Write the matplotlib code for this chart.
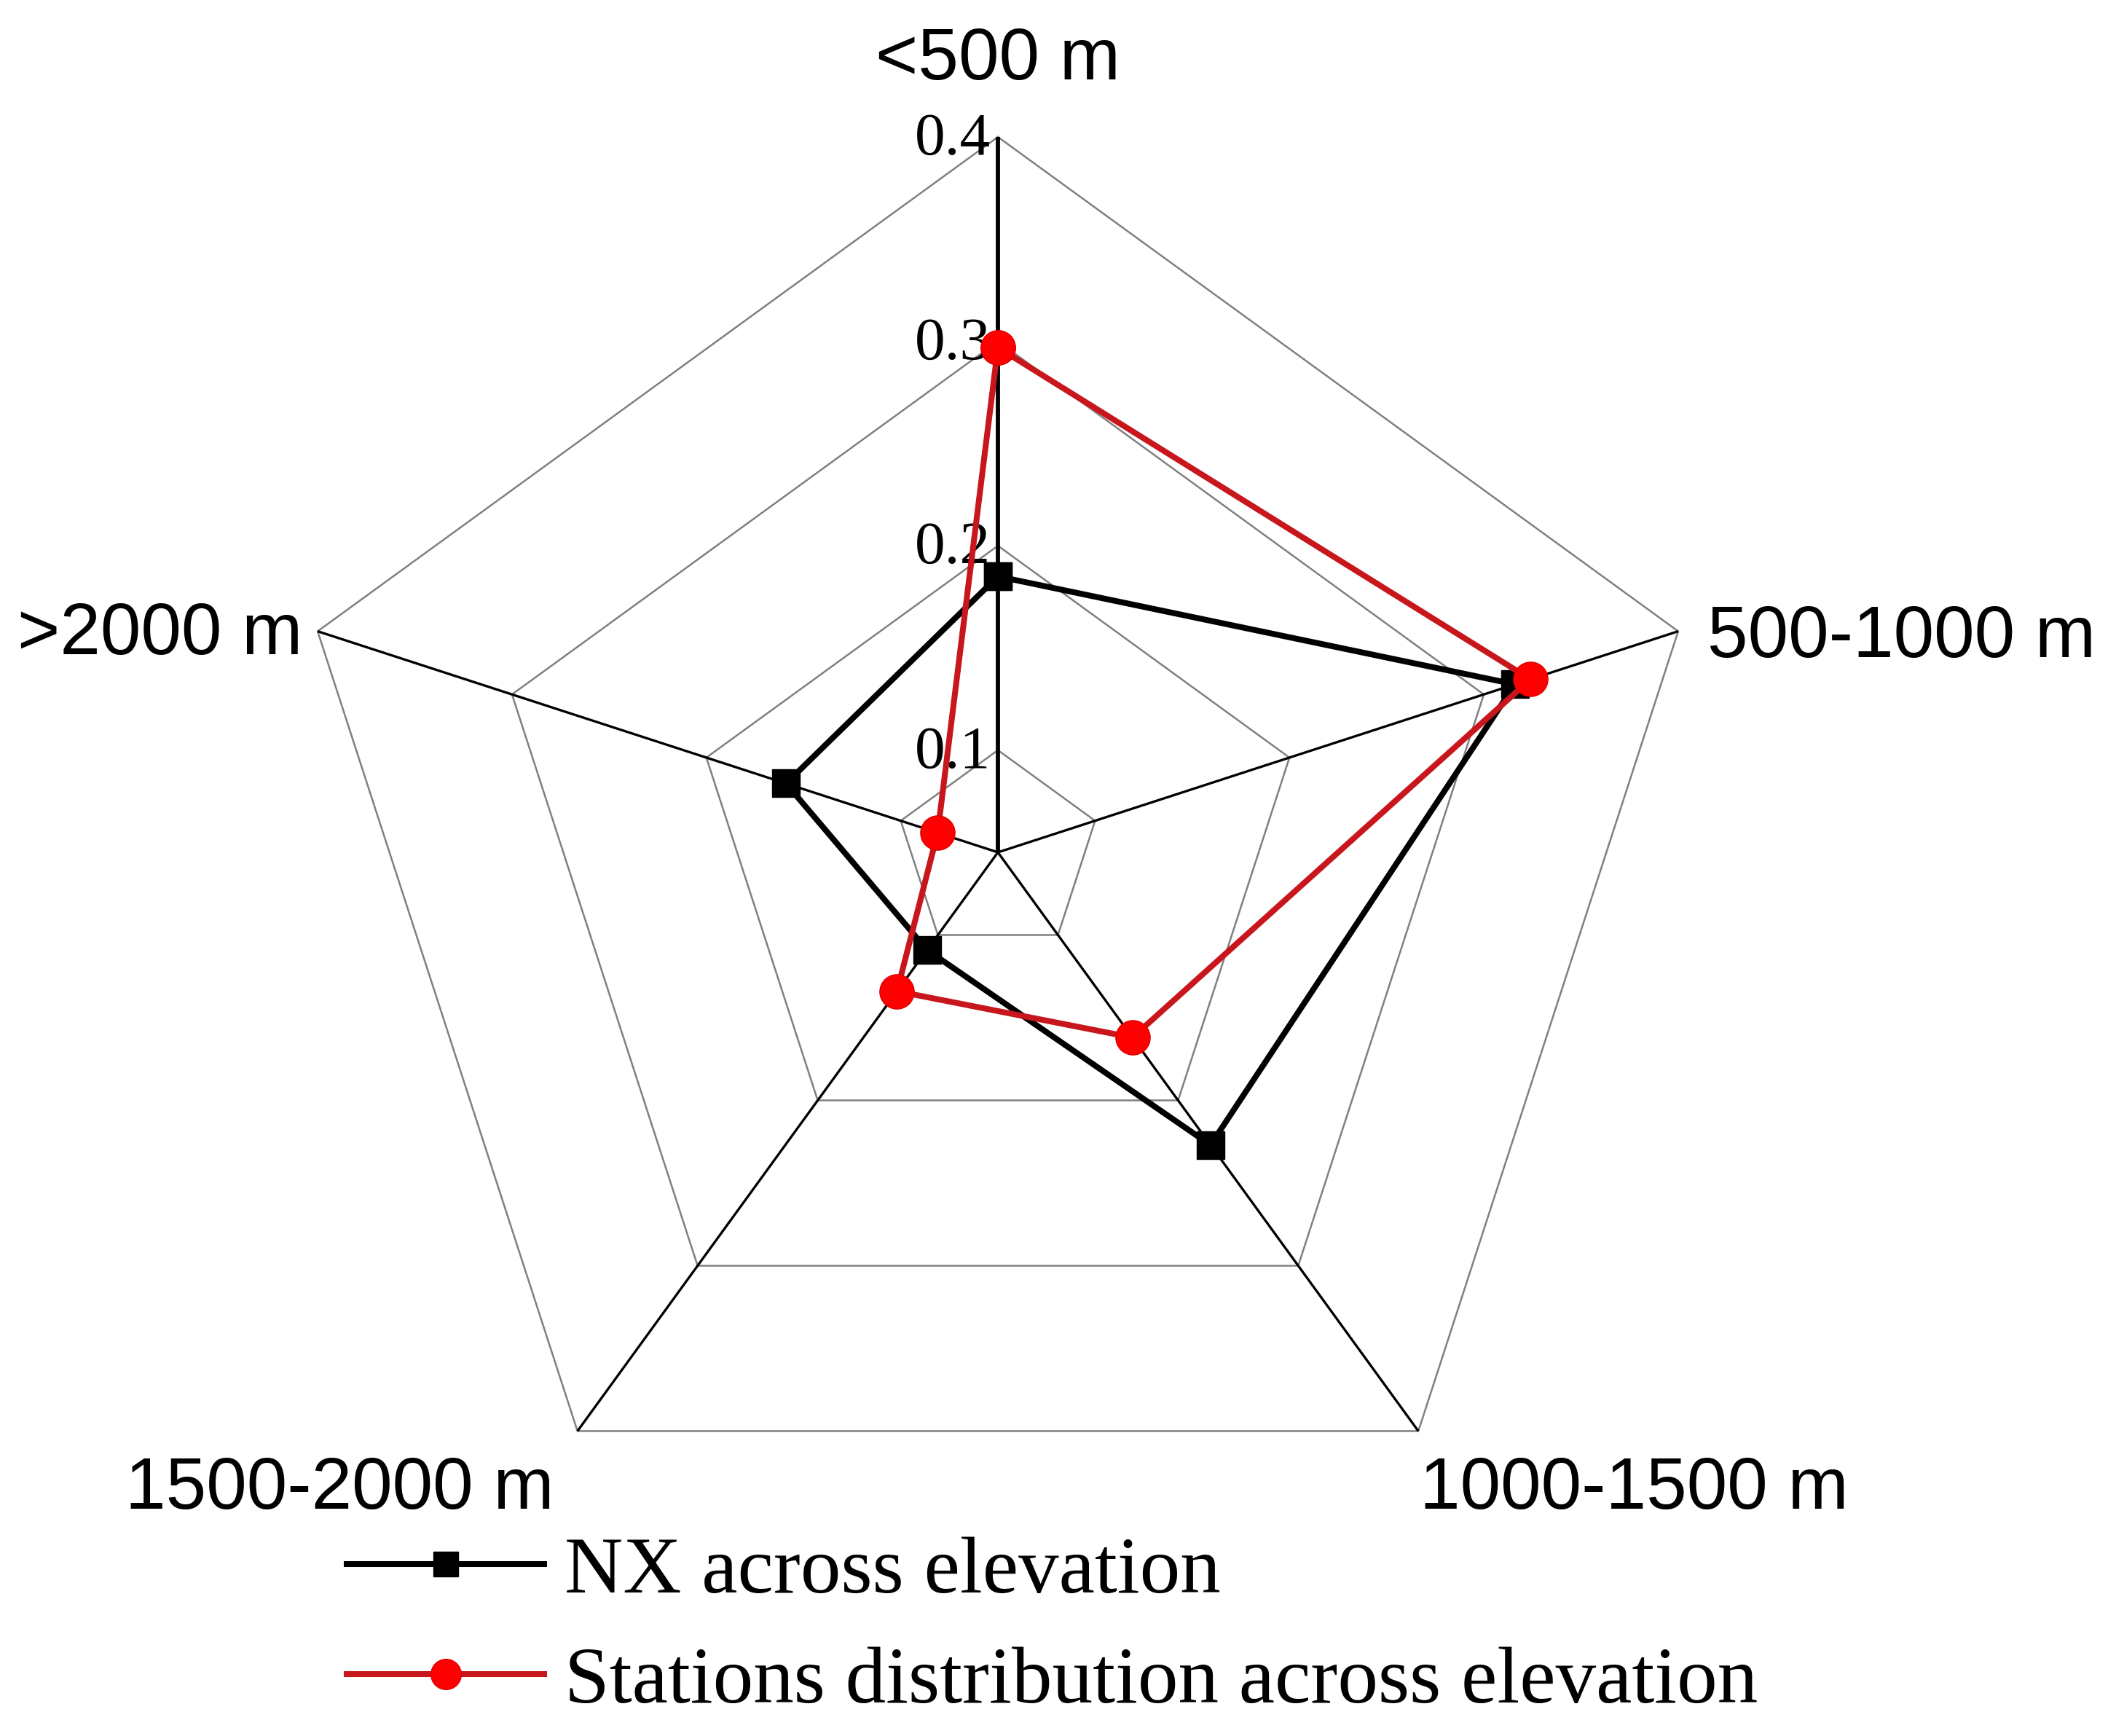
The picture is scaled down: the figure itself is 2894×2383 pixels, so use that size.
import numpy as np
import matplotlib
matplotlib.use("Agg")
import matplotlib.pyplot as plt
from matplotlib.lines import Line2D

# ---- data ----
categories = ["<500 m", "500-1000 m", "1000-1500 m", "1500-2000 m", ">2000 m"]
nx_values = [0.185, 0.316, 0.227, 0.109, 0.159]
station_values = [0.297, 0.324, 0.162, 0.134, 0.081]
ring_values = [0.1, 0.2, 0.3, 0.4]
ring_labels = ["0.1", "0.2", "0.3", "0.4"]
r_min = 0.05
r_max = 0.4
series_labels = ["NX across elevation", "Stations distribution across elevation"]

# ---- geometry ----
W, H, DPI = 2894, 2383, 100
fig = plt.figure(figsize=(W / DPI, H / DPI), dpi=DPI)
ax = fig.add_axes([0, 0, 1, 1])
ax.set_axis_off()

cx_px, cy_px = 1370, 1170        # centre in pixels (from top-left)
R_px = 982                        # outer ring radius in pixels
scale = R_px / (r_max - r_min)    # pixels per data unit
ax.set_xlim(-cx_px / scale, (W - cx_px) / scale)
ax.set_ylim(-(H - cy_px) / scale, cy_px / scale)

n = len(categories)
angles = np.pi / 2 - 2 * np.pi * np.arange(n) / n


def to_xy(vals):
    r = np.asarray(vals) - r_min
    return r * np.cos(angles), r * np.sin(angles)


# rings
for v in ring_values:
    x, y = to_xy([v] * n)
    ax.plot(np.append(x, x[0]), np.append(y, y[0]), color="#808080", lw=1.8, zorder=1)

# spokes
for i, a in enumerate(angles):
    r = r_max - r_min
    ax.plot([0, r * np.cos(a)], [0, r * np.sin(a)], color="black",
            lw=4.2 if i == 0 else 2.4, zorder=2, solid_capstyle="butt")

# ring labels
for v, lab in zip(ring_values, ring_labels):
    ax.annotate(lab, (0, v - r_min), xytext=(-10, -4), textcoords="offset pixels",
                ha="right", va="center", fontsize=60, family="Liberation Serif", zorder=3)

# category labels
offsets = [(0, 105), (40, -9), (296, -81), (-326, -81), (-21, -5)]
aligns = ["center", "left", "center", "center", "right"]
xv, yv = to_xy([r_max] * n)
for i, cat in enumerate(categories):
    ax.annotate(cat, (xv[i], yv[i]), xytext=offsets[i], textcoords="offset pixels",
                ha=aligns[i], va="center", fontsize=72, family="Liberation Sans")

# series
x, y = to_xy(nx_values)
ax.plot(np.append(x, x[0]), np.append(y, y[0]), color="black", lw=5.8,
        marker="s", markersize=28, markerfacecolor="black", markeredgecolor="black",
        zorder=4)
x, y = to_xy(station_values)
ax.plot(np.append(x, x[0]), np.append(y, y[0]), color="#c8161d", lw=5.8,
        marker="o", markersize=34, markerfacecolor="#ff0000", markeredgecolor="#e00000",
        zorder=5)

# legend
handles = [
    Line2D([], [], color="black", lw=5.8, marker="s", markersize=24,
           markerfacecolor="black", markeredgecolor="black"),
    Line2D([], [], color="#c8161d", lw=5.8, marker="o", markersize=30,
           markerfacecolor="#ff0000", markeredgecolor="#e00000"),
]
leg = fig.legend(handles, series_labels, loc="upper left",
                 bbox_to_anchor=(476 / W, 1 - 2108 / H),
                 frameon=False, handlelength=2.44, handletextpad=0.25,
                 labelspacing=0.45, borderpad=0, borderaxespad=0,
                 prop={"family": "Liberation Serif", "size": 80})

fig.savefig("out.png", dpi=DPI, facecolor="white")
